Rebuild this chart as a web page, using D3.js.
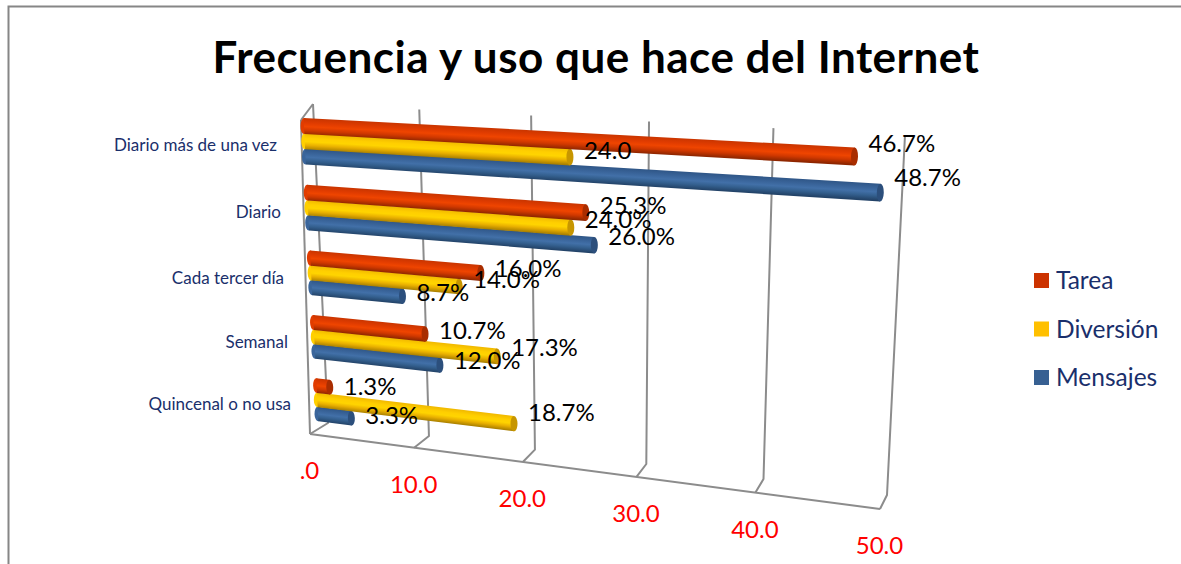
<!DOCTYPE html>
<html><head><meta charset="utf-8">
<script src="https://cdn.jsdelivr.net/npm/d3@7/dist/d3.min.js"></script>
<style>html,body{margin:0;padding:0;background:#fff}svg{display:block}text{font-family:Lato,"Open Sans",sans-serif}</style>
</head><body><svg id="c" width="1181" height="564"></svg>
<script>
const title = "Frecuencia y uso que hace del Internet";
const categories = ["Diario más de una vez","Diario","Cada tercer día","Semanal","Quincenal o no usa"];
const seriesNames = ["Tarea","Diversión","Mensajes"];
const tarea = [46.7,25.3,16.0,10.7,1.3];
const diversion = [24.0,24.0,14.0,17.3,18.7];
const mensajes = [48.7,26.0,8.7,12.0,3.3];
const tareaLabels = ["46.7%","25.3%","16.0%","10.7%","1.3%"];
const diversionLabels = ["24.0","24.0%","14.0%","17.3%","18.7%"];
const mensajesLabels = ["48.7%","26.0%","8.7%","12.0%","3.3%"];
const ticks = [0,10,20,30,40,50];
const tickLabels = [".0","10.0","20.0","30.0","40.0","50.0"];
const palette = {
  Tarea:{legend:"#CC3300",stops:["#c93500","#e13c00","#ef4500","#d03800","#8e2600"],cap:"#a92d00"},
  "Diversión":{legend:"#FFC000",stops:["#f0b800","#ffcf00","#ffd400","#e9b000","#a97f00"],cap:"#c79600"},
  Mensajes:{legend:"#376092",stops:["#2f5687","#3a659b","#4270a8","#34608f","#234368"],cap:"#2c4f7c"}
};
const values = {Tarea:tarea,"Diversión":diversion,Mensajes:mensajes};
const labels = {Tarea:tareaLabels,"Diversión":diversionLabels,Mensajes:mensajesLabels};
const labelNudge = {Tarea:()=>-1.5,"Diversión":i=>-1-1.5*i,Mensajes:()=>-3};

function homography(q){
  const [[x0,y0],[x1,y1],[x2,y2],[x3,y3]] = q;
  const dx1=x1-x2, dx2=x3-x2, dx3=x0-x1+x2-x3, dy1=y1-y2, dy2=y3-y2, dy3=y0-y1+y2-y3;
  const det=dx1*dy2-dx2*dy1;
  const g=(dx3*dy2-dx2*dy3)/det, h=(dx1*dy3-dx3*dy1)/det;
  const a=x1-x0+g*x1, b=x3-x0+h*x3, d=y1-y0+g*y1, e=y3-y0+h*y3;
  return (u,v)=>{const w=g*u+h*v+1;return [(a*u+b*v+x0)/w,(d*u+e*v+y0)/w];};
}
const wall = homography([[313,104],[905,135],[887,495],[328,423]]);
const floorQ = homography([[328,423],[887,495],[880,509],[310,434]]);
const barPlane = homography([[304,126],[899,159],[888,485],[318,414]]);

const svg = d3.select("#c");
const defs = svg.append("defs");
const x = d3.scaleLinear().domain([0,50]).range([0,1]);
const cat = d3.scaleBand().domain(categories).range([0,1]).paddingInner(0.5444);
const ser = d3.scalePoint().domain(seriesNames).range([0,cat.bandwidth()]);
const halfT = ser.step()*0.52;

svg.append("path").attr("d","M8.5,564V6.5H1181").attr("fill","none").attr("stroke","#868686").attr("stroke-width",2);

svg.append("text").attr("x",596).attr("y",73).attr("text-anchor","middle")
  .attr("font-size",44).attr("letter-spacing",0.5).attr("font-weight",700).attr("fill","#000").text(title);

const line = d3.line();
const grid = svg.append("g").attr("fill","none").attr("stroke","#8c8c8c").attr("stroke-width",2).attr("stroke-linejoin","round");
ticks.forEach(t=>{
  const u=x(t);
  grid.append("path").attr("d",line([wall(u,0),wall(u,1),floorQ(u,1)]));
});
grid.append("path").attr("d",line([floorQ(0,1),floorQ(1,1)]));
grid.append("path").attr("d",line([[301,120],wall(0,0)]));
grid.append("path").attr("d",line([[301,120],floorQ(0,1)]));

svg.append("g").selectAll("text").data(ticks).join("text")
  .attr("x",d=>floorQ(x(d),1)[0]-0.5).attr("y",d=>floorQ(x(d),1)[1]+45)
  .attr("text-anchor","middle").attr("font-size",24).attr("fill","#ff0000")
  .text((d,i)=>tickLabels[i]);

const catRight=[277,281,284,288,291], catY=[145,212,278,342,404];
svg.append("g").selectAll("text").data(categories).join("text")
  .attr("x",(d,i)=>catRight[i]).attr("y",(d,i)=>catY[i]).attr("dy","0.35em")
  .attr("text-anchor","end").attr("font-size",17).attr("fill","#1a2f6b").text(d=>d);

const barsG = svg.append("g");
[...seriesNames].reverse().forEach(s=>{
  const pal=palette[s];
  categories.forEach((c,i)=>{
    const t=cat(c)+ser(s), u=x(values[s][i]);
    const a0=barPlane(0,t-halfT), a1=barPlane(u,t-halfT), b1=barPlane(u,t+halfT), b0=barPlane(0,t+halfT);
    const id="g"+seriesNames.indexOf(s)+"_"+i;
    const m=[(a0[0]+a1[0])/2,(a0[1]+a1[1])/2], n=[(b0[0]+b1[0])/2,(b0[1]+b1[1])/2];
    const dx=a1[0]-a0[0], dy=a1[1]-a0[1], len=Math.hypot(dx,dy)||1, nx=-dy/len, ny=dx/len;
    const th=(n[0]-m[0])*nx+(n[1]-m[1])*ny;
    const gr=defs.append("linearGradient").attr("id",id).attr("gradientUnits","userSpaceOnUse")
      .attr("x1",m[0]).attr("y1",m[1]).attr("x2",m[0]+nx*th).attr("y2",m[1]+ny*th);
    [0,.3,.5,.72,1].forEach((o,k)=>gr.append("stop").attr("offset",o).attr("stop-color",pal.stops[k]));
    const g=barsG.append("g");
    const ang=Math.atan2(b1[1]-a1[1],b1[0]-a1[0])*180/Math.PI-90;
    const ell=(p,q,rx,fill)=>g.append("ellipse")
      .attr("cx",(p[0]+q[0])/2).attr("cy",(p[1]+q[1])/2).attr("rx",rx)
      .attr("ry",Math.hypot(q[0]-p[0],q[1]-p[1])/2)
      .attr("transform",`rotate(${ang} ${(p[0]+q[0])/2} ${(p[1]+q[1])/2})`).attr("fill",fill);
    ell(a0,b0,3.5,pal.stops[1]);
    g.append("path").attr("d",line([a0,a1,b1,b0])+"Z").attr("fill",`url(#${id})`);
    ell(a1,b1,3.5,pal.cap);
  });
});

const lab = svg.append("g");
seriesNames.forEach(s=>{
  categories.forEach((c,i)=>{
    const v=values[s][i], p=barPlane(x(v),cat(c)+ser(s));
    lab.append("text").attr("x",p[0]+14).attr("y",p[1]-(0.28*v-1.5)+labelNudge[s](i)).attr("dy","0.35em")
      .attr("font-size",24).attr("fill","#000").text(labels[s][i]);
  });
});

const legY=d3.scalePoint().domain(seriesNames).range([280.5,377.5]);
const leg=svg.append("g");
seriesNames.forEach(s=>{
  leg.append("rect").attr("x",1034).attr("y",legY(s)-7.5).attr("width",15).attr("height",15).attr("fill",palette[s].legend);
  leg.append("text").attr("x",1056).attr("y",legY(s)).attr("dy","0.35em").attr("font-size",24.5).attr("fill","#1a2f6b").text(s);
});
</script></body></html>
